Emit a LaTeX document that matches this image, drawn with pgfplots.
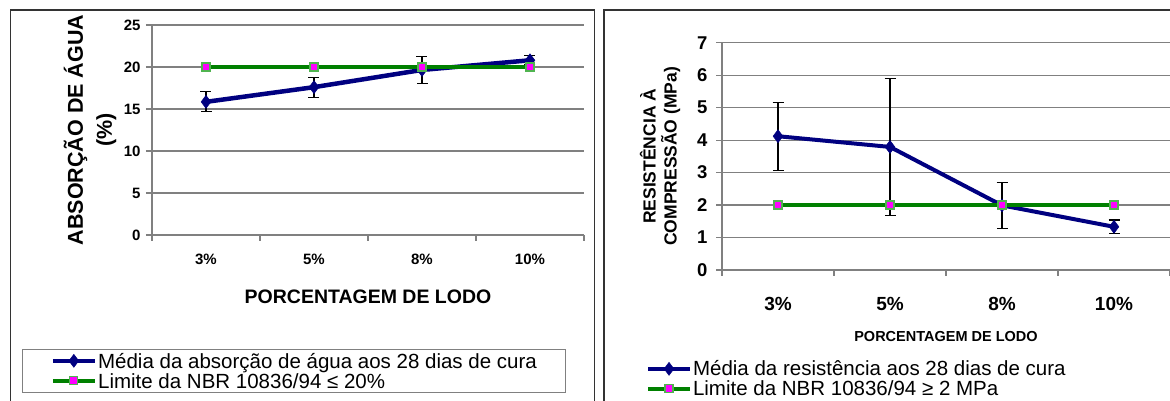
\documentclass[border=0pt]{standalone}
\usepackage{fontspec}
\setmainfont{Liberation Sans}
\usepackage{pgfplots}
\pgfplotsset{compat=1.18}
\definecolor{navy}{RGB}{0,0,128}
\definecolor{dgreen}{RGB}{0,128,0}
\definecolor{lgreen}{RGB}{80,180,80}
\definecolor{mag}{RGB}{255,0,255}
\definecolor{gridgray}{RGB}{128,128,128}

\pgfplotstableread{
x y e
0 15.85 1.2
1 17.6 1.2
2 19.65 1.6
3 20.8 0.55
}\absorcao
\pgfplotstableread{
x y
0 20
1 20
2 20
3 20
}\limA
\pgfplotstableread{
x y e
0 4.12 1.05
1 3.79 2.12
2 1.99 0.71
3 1.33 0.21
}\resist
\pgfplotstableread{
x y
0 2
1 2
2 2
3 2
}\limB

\pgfplotsset{
  basestyle/.style={
    scale only axis,
    anchor=south west,
    xmin=-0.5, xmax=3.5, ymin=0,
    axis lines*=left,
    axis line style={-, gridgray, line width=1.3pt},
    tick align=outside,
    xtick={0,1,2,3},
    xticklabels={3\%,5\%,8\%,10\%},
    major x tick style={draw=none},
    minor xtick={-0.5,0.5,1.5,2.5,3.5},
    minor tick length=6pt,
    major tick length=6pt,
    tick style={gridgray, line width=1.2pt},
    ymajorgrids,
    grid style={gridgray, line width=1.2pt},
    /pgf/number format/assume math mode=true,
    legend cell align=left,
    legend image code/.code={\draw[mark repeat=2,mark phase=2] plot coordinates {(0pt,0pt) (21pt,0pt) (42pt,0pt)};},
  },
  blueline/.style={navy, line width=4.5pt, mark=diamond*, mark size=6.5pt,
    mark options={fill=navy, draw=navy, line width=0.5pt}},
  greenline/.style={dgreen, line width=4.5pt, mark=square*, mark size=4pt,
    mark options={fill=mag, draw=lgreen, line width=1.2pt}},
  ebars/.style={error bars/.cd, y dir=both, y explicit,
    error bar style={black, line width=1.1pt},
    error mark options={rotate=90, mark size=5.5pt, black, line width=1.1pt}},
}

\begin{document}
\begin{tikzpicture}[x=1pt,y=1pt]
\useasboundingbox (0,0) rectangle (1170,401);
\clip (0,0) rectangle (1170,401);
\draw[black!80, line width=1.6pt] (10.5,-10) -- (10.5,391) -- (594.5,391) -- (594.5,-10);
\draw[black!80, line width=1.6pt] (604,-10) -- (604,391) -- (1180,391);

% ---------------- left chart ----------------
\begin{axis}[basestyle,
  at={(152pt,166pt)}, width=432pt, height=210pt,
  ymax=25, ytick={0,5,10,15,20,25},
  ticklabel style={font=\bfseries\fontsize{15}{15}\selectfont},
  yticklabel style={xshift=-2pt},
  xticklabel style={font=\bfseries\fontsize{15}{15}\selectfont, anchor=base, yshift=-24pt},
  ylabel={ABSORÇÃO DE ÁGUA\\(\%)},
  ylabel style={at={(axis description cs:-0.1435,0.5)}, anchor=center, align=center,
    font=\bfseries\fontsize{21.5}{29}\selectfont},
  xlabel={PORCENTAGEM DE LODO},
  xlabel style={at={(axis description cs:0.5,-0.295)}, anchor=center,
    font=\bfseries\fontsize{19.5}{19.5}\selectfont},
  legend style={at={(axis description cs:-0.3009,-0.752)}, anchor=south west,
    draw=gridgray, line width=1.2pt, font=\fontsize{20.5}{20}\selectfont,
    inner xsep=28pt, inner ysep=1.5pt, row sep=0pt,
    nodes={inner xsep=1pt, inner ysep=0pt, text height=18pt, text depth=2pt}},
]
\addplot[blueline, ebars] table[x=x, y=y, y error=e] {\absorcao};
\addlegendentry{Média da absorção de água aos 28 dias de cura}
\addplot[greenline] table[x=x, y=y] {\limA};
\addlegendentry{Limite da NBR 10836/94 ≤ 20\%}
\end{axis}

% ---------------- right chart ----------------
\begin{axis}[basestyle,
  at={(722pt,131pt)}, width=448pt, height=227.3pt,
  ymax=7, ytick={0,1,...,7},
  yticklabel style={font=\bfseries\fontsize{18.5}{18.5}\selectfont, xshift=-5pt},
  xticklabel style={font=\bfseries\fontsize{19}{19}\selectfont, anchor=base, yshift=-35pt},
  ylabel={RESISTÊNCIA À\\COMPRESSÃO (MPa)},
  ylabel style={at={(axis description cs:-0.138,0.5)}, anchor=center, align=center,
    font=\bfseries\fontsize{17.5}{21}\selectfont},
  xlabel={PORCENTAGEM DE LODO},
  xlabel style={at={(axis description cs:0.5,-0.2948)}, anchor=center,
    font=\bfseries\fontsize{14.5}{14.5}\selectfont},
  legend style={at={(axis description cs:-0.17,-0.39)}, anchor=north west,
    draw=none, fill=none, font=\fontsize{20.5}{20}\selectfont,
    inner xsep=0pt, inner ysep=0pt, row sep=0pt,
    nodes={inner xsep=1pt, inner ysep=0pt, text height=17pt, text depth=3pt}},
]
\addplot[blueline, line width=4pt, ebars] table[x=x, y=y, y error=e] {\resist};
\addlegendentry{Média da resistência aos 28 dias de cura}
\addplot[greenline, line width=4pt] table[x=x, y=y] {\limB};
\addlegendentry{Limite da NBR 10836/94 ≥ 2 MPa}
\end{axis}
\end{tikzpicture}
\end{document}
